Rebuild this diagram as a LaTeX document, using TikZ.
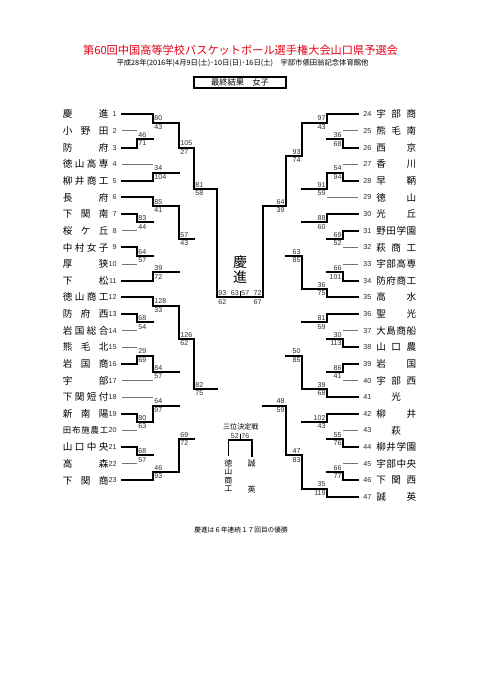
\documentclass[tikz,border=0pt]{standalone}
\usepackage{fontspec}
\newfontfamily\jp{Noto Sans CJK JP}
\newfontfamily\ar{Liberation Sans}
\definecolor{losegray}{RGB}{115,115,115}
\definecolor{tred}{RGB}{228,0,18}
\definecolor{scg}{RGB}{45,45,45}
\pgfdeclarelayer{back}
\pgfsetlayers{back,main}
\newcommand\ry[1]{(114.3+8.32*(#1))}
\tikzset{
 winl/.style={line width=1.5pt, black, line cap=rect},
 losel/.style={line width=0.8pt, losegray},
 sc/.style={font=\ar\fontsize{5.3pt}{6pt}\selectfont, inner sep=0pt, text=scg},
 tnum/.style={font=\ar\fontsize{5.4pt}{6pt}\selectfont, inner sep=0pt, text=scg},
 tname/.style={font=\jp\fontsize{7.2pt}{8pt}\selectfont, inner sep=0pt},
 jps/.style={font=\jp\fontsize{#1}{#1}\selectfont, inner sep=0pt},
}
% left match: V, top row, bottom row, out row, winner t/b, top score, bottom score, next V
\newcommand\mL[8]{%
 \if t#5
  \begin{pgfonlayer}{back}\draw[losel] (#1,{\ry{#4}}) -- (#1,{\ry{#3}});\end{pgfonlayer}
  \draw[winl] (#1,{\ry{#2}}) -- (#1,{\ry{#4}});
 \else
  \begin{pgfonlayer}{back}\draw[losel] (#1,{\ry{#2}}) -- (#1,{\ry{#4}});\end{pgfonlayer}
  \draw[winl] (#1,{\ry{#4}}) -- (#1,{\ry{#3}});
 \fi
 \draw[winl] (#1,{\ry{#4}}) -- (#8,{\ry{#4}});
 \node[sc,anchor=south west] (sL#1r#4t) at ({#1+1.2},{\ry{#4}-1.4}) {#6};
 \node[sc,anchor=north west] (sL#1r#4b) at ({#1+1.2},{\ry{#4}+1.6}) {#7};
}
\newcommand\mR[8]{%
 \if t#5
  \begin{pgfonlayer}{back}\draw[losel] (#1,{\ry{#4}}) -- (#1,{\ry{#3}});\end{pgfonlayer}
  \draw[winl] (#1,{\ry{#2}}) -- (#1,{\ry{#4}});
 \else
  \begin{pgfonlayer}{back}\draw[losel] (#1,{\ry{#2}}) -- (#1,{\ry{#4}});\end{pgfonlayer}
  \draw[winl] (#1,{\ry{#4}}) -- (#1,{\ry{#3}});
 \fi
 \draw[winl] (#1,{\ry{#4}}) -- (#8,{\ry{#4}});
 \node[sc,anchor=south east] (sR#1r#4t) at ({#1-1.2},{\ry{#4}-1.4}) {#6};
 \node[sc,anchor=north east] (sR#1r#4b) at ({#1-1.2},{\ry{#4}+1.6}) {#7};
}
% team: number, row, first V, style, name
\newcommand\teamL[5]{%
 \node[tnum,anchor=east] (nL#1) at (116.8,{\ry{#2}}) {#1};
 \node[tname,anchor=west] (tL#1) at (62.5,{\ry{#2}}) {\makebox[34.2pt]{#5}};
 \coordinate (aL#1) at (122,{\ry{#2}});
 \coordinate (bL#1) at (#3,{\ry{#2}});
 \draw[#4] (aL#1) -- (bL#1);
}
\newcommand\teamR[5]{%
 \node[tnum,anchor=west] (nR#1) at (363,{\ry{#2}}) {#1};
 \node[tname,anchor=west] (tR#1) at (376,{\ry{#2}}) {\makebox[30pt]{#5}};
 \coordinate (aR#1) at (358.3,{\ry{#2}});
 \coordinate (bR#1) at (#3,{\ry{#2}});
 \draw[#4] (bR#1) -- (aR#1);
}
\begin{document}
\begin{tikzpicture}[x=0.75pt,y=-0.75pt]
\fill[white] (0,0) rectangle (481,680);
\useasboundingbox (0,0) rectangle (481,680);
% headings
\node[jps=8.4pt,text=tred] (title) at (240.5,50) {第60回中国高等学校バスケットボール選手権大会山口県予選会};
\node[jps=5.5pt] (sub) at (242.5,63.3) {平成28年(2016年)4月9日(土)･10日(日)･16日(土)\quad 宇部市俵田翁記念体育館他};
\node[jps=6.2pt,draw,line width=0.8pt,minimum width=69pt,minimum height=8.25pt] (res) at (240,82.5) {最終結果　女子};
% left teams
\teamL{1}{0}{153}{winl}{慶\hfill 進}
\teamL{2}{2}{137}{losel}{小\hfill 野\hfill 田}
\teamL{3}{4}{137}{winl}{防\hfill 府}
\teamL{4}{6}{153}{losel}{徳\hfill 山\hfill 高\hfill 専}
\teamL{5}{8}{153}{winl}{柳\hfill 井\hfill 商\hfill 工}
\teamL{6}{10}{153}{winl}{長\hfill 府}
\teamL{7}{12}{137}{winl}{下\hfill 関\hfill 南}
\teamL{8}{14}{137}{losel}{桜\hfill ケ\hfill 丘}
\teamL{9}{16}{137}{winl}{中\hfill 村\hfill 女\hfill 子}
\teamL{10}{18}{137}{losel}{厚\hfill 狭}
\teamL{11}{20}{153}{winl}{下\hfill 松}
\teamL{12}{22}{153}{winl}{徳\hfill 山\hfill 商\hfill 工}
\teamL{13}{24}{137}{winl}{防\hfill 府\hfill 西}
\teamL{14}{26}{137}{losel}{岩\hfill 国\hfill 総\hfill 合}
\teamL{15}{28}{137}{losel}{熊\hfill 毛\hfill 北}
\teamL{16}{30}{137}{winl}{岩\hfill 国\hfill 商}
\teamL{17}{32}{153}{losel}{宇\hfill 部}
\teamL{18}{34}{153}{losel}{下\hfill 関\hfill 短\hfill 付}
\teamL{19}{36}{137}{winl}{新\hfill 南\hfill 陽}
\teamL{20}{38}{137}{losel}{\fontsize{6.3pt}{7pt}\selectfont 田\hfill 布\hfill 施\hfill 農\hfill 工}
\teamL{21}{40}{137}{winl}{山\hfill 口\hfill 中\hfill 央}
\teamL{22}{42}{137}{losel}{高\hfill 森}
\teamL{23}{44}{153}{winl}{下\hfill 関\hfill 商}
% right teams
\teamR{24}{0}{327}{winl}{宇\hfill 部\hfill 商}
\teamR{25}{2}{343}{losel}{熊\hfill 毛\hfill 南}
\teamR{26}{4}{343}{winl}{西\hfill 京}
\teamR{27}{6}{343}{losel}{香\hfill 川}
\teamR{28}{8}{343}{winl}{早\hfill 鞆}
\teamR{29}{10}{327}{losel}{徳\hfill 山}
\teamR{30}{12}{327}{winl}{光\hfill 丘}
\teamR{31}{14}{343}{winl}{野\hfill 田\hfill 学\hfill 園}
\teamR{32}{16}{343}{losel}{萩\hfill 商\hfill 工}
\teamR{33}{18}{343}{losel}{宇\hfill 部\hfill 高\hfill 専}
\teamR{34}{20}{343}{winl}{防\hfill 府\hfill 商\hfill 工}
\teamR{35}{22}{327}{winl}{高\hfill 水}
\teamR{36}{24}{327}{winl}{聖\hfill 光}
\teamR{37}{26}{343}{losel}{大\hfill 島\hfill 商\hfill 船}
\teamR{38}{28}{343}{winl}{山\hfill 口\hfill 農}
\teamR{39}{30}{343}{winl}{岩\hfill 国}
\teamR{40}{32}{343}{losel}{宇\hfill 部\hfill 西}
\teamR{41}{34}{327}{winl}{\hfill 光\hfill}
\teamR{42}{36}{327}{winl}{柳\hfill 井}
\teamR{43}{38}{343}{losel}{\hfill 萩\hfill}
\teamR{44}{40}{343}{winl}{柳\hfill 井\hfill 学\hfill 園}
\teamR{45}{42}{343}{losel}{宇\hfill 部\hfill 中\hfill 央}
\teamR{46}{44}{343}{winl}{下\hfill 関\hfill 西}
\teamR{47}{46}{327}{winl}{誠\hfill 英}
% left matches
\mL{137}{2}{4}{3}{b}{46}{71}{153}
\mL{137}{12}{14}{13}{t}{83}{44}{153}
\mL{137}{16}{18}{17}{t}{64}{57}{153}
\mL{137}{24}{26}{25}{t}{68}{54}{153}
\mL{137}{28}{30}{29}{b}{29}{69}{153}
\mL{137}{36}{38}{37}{t}{80}{63}{153}
\mL{137}{40}{42}{41}{t}{68}{57}{153}
\mL{153}{0}{3}{1}{t}{80}{43}{179}
\mL{153}{6}{8}{7}{b}{34}{104}{179}
\mL{153}{10}{13}{11}{t}{85}{41}{179}
\mL{153}{17}{20}{19}{b}{39}{72}{179}
\mL{153}{22}{25}{23}{t}{128}{33}{179}
\mL{153}{29}{32}{31}{t}{84}{57}{179}
\mL{153}{34}{37}{35}{b}{64}{97}{179}
\mL{153}{41}{44}{43}{b}{46}{93}{179}
\mL{179}{1}{7}{4}{t}{105}{27}{194}
\mL{179}{11}{19}{15}{t}{57}{43}{194}
\mL{179}{23}{31}{27}{t}{126}{62}{194}
\mL{179}{35}{43}{39}{b}{69}{72}{194}
\mL{194}{4}{15}{9}{t}{81}{58}{217}
\mL{194}{27}{39}{33}{t}{82}{75}{217}
\mL{217}{9}{33}{22}{t}{93}{62}{240}
% right matches
\mR{343}{2}{4}{3}{b}{36}{68}{327}
\mR{343}{6}{8}{7}{b}{54}{94}{327}
\mR{343}{14}{16}{15}{t}{69}{52}{327}
\mR{343}{18}{20}{19}{b}{66}{101}{327}
\mR{343}{26}{28}{27}{b}{30}{113}{327}
\mR{343}{30}{32}{31}{t}{86}{41}{327}
\mR{343}{38}{40}{39}{b}{55}{76}{327}
\mR{343}{42}{44}{43}{b}{66}{77}{327}
\mR{327}{0}{3}{1}{t}{97}{43}{302}
\mR{327}{7}{10}{9}{t}{91}{59}{302}
\mR{327}{12}{15}{13}{t}{88}{60}{302}
\mR{327}{19}{22}{21}{b}{36}{75}{302}
\mR{327}{24}{27}{25}{t}{81}{59}{302}
\mR{327}{31}{34}{33}{b}{39}{68}{302}
\mR{327}{36}{39}{37}{t}{102}{43}{302}
\mR{327}{43}{46}{45}{b}{35}{119}{302}
\mR{302}{1}{9}{5}{t}{93}{74}{286}
\mR{302}{13}{21}{17}{b}{63}{85}{286}
\mR{302}{25}{33}{29}{b}{50}{85}{286}
\mR{302}{37}{45}{41}{b}{47}{83}{286}
\mR{286}{5}{17}{11}{t}{64}{39}{263}
\mR{286}{29}{41}{35}{b}{48}{59}{263}
\mR{263}{11}{35}{22}{t}{72}{67}{240}
% final
\coordinate (fc) at (240,{\ry{22}});
\coordinate (ft) at (240,{\ry{22}-6});
\draw[line width=0.6pt] (fc) -- (ft);
\node[sc,anchor=south east] (f1) at ({240-1},{\ry{22}-1.4}) {63};
\node[sc,anchor=south west] (f2) at ({240+1.2},{\ry{22}-1.4}) {57};
\node[jps=10.5pt] (ch1) at (240,261.7) {慶};
\node[jps=10.5pt] (ch2) at (240,276.7) {進};
% third place
\node[jps=5.3pt] (tp) at (240.8,426.7) {三位決定戦};
\coordinate (tpl) at (228.3,440);
\coordinate (tpm) at (240,440);
\coordinate (tpr) at (251.7,440);
\coordinate (tpt) at (240,433.5);
\coordinate (tpld) at (228.3,456);
\coordinate (tprd) at (251.7,456);
\draw[line width=0.9pt] (tpl) -- (tpm);
\draw[line width=0.9pt] (tpld) -- (tpl);
\draw[winl] (tpm) -- (tpr) -- (tprd);
\draw[line width=0.6pt] (tpm) -- (tpt);
\node[sc,anchor=south east] (tp1) at (239,438.6) {52};
\node[sc,anchor=south west] (tp2) at (241.2,438.6) {76};
\node[jps=6pt] (tk1) at (228.3,463.3) {徳};
\node[jps=6pt] (tk2) at (228.3,471.9) {山};
\node[jps=6pt] (tk3) at (228.3,480.5) {商};
\node[jps=6pt] (tk4) at (228.3,489.1) {工};
\node[jps=6pt] (se1) at (251.7,463.3) {誠};
\node[jps=6pt] (se2) at (251.7,489.5) {英};
% footer
\node[jps=5pt] (foot) at (241,530) {慶進は６年連続１７回目の優勝};
\end{tikzpicture}
\end{document}
